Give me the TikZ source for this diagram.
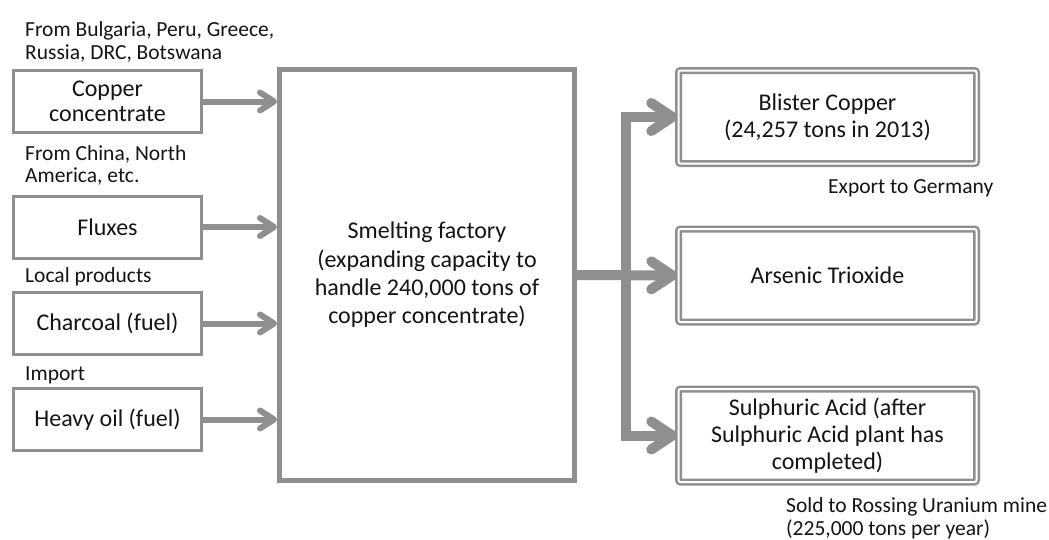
\documentclass[tikz,border=0pt]{standalone}
\usepackage{fontspec}
\setmainfont{Carlito}
\usetikzlibrary{arrows.meta}
\definecolor{linegray}{RGB}{143,143,143}
\definecolor{ink}{RGB}{20,20,20}
\tikzset{
  inbox/.style={draw=linegray, line width=3pt, fill=white, minimum width=188pt, minimum height=62pt,
    align=center, text=ink, font=\fontsize{24}{25}\selectfont, inner sep=0pt},
  factorybox/.style={draw=linegray, line width=5pt, fill=white, minimum width=295pt, minimum height=411pt,
    align=center, text=ink, font=\fontsize{24}{28.3}\selectfont, inner sep=0pt},
  outbox/.style={draw=linegray, double=white, double distance=2pt, line width=2.5pt, rounded corners=2pt,
    minimum width=298pt, minimum height=93pt, align=center, text=ink,
    font=\fontsize{24}{27.3}\selectfont, inner sep=0pt},
  note/.style={anchor=base west, align=left, text=ink, font=\fontsize{21.5}{22.7}\selectfont, inner sep=0pt},
  inarrow/.style={draw=linegray, line width=6pt,
    -{Straight Barb[length=14pt, width=18pt, line cap=round, line join=round]}},
  outarrow/.style={draw=linegray, line width=10pt, line join=miter,
    -{Straight Barb[length=21pt, width=28pt, line cap=round, line join=round]}},
}
\begin{document}
\begin{tikzpicture}[x=1pt, y=-1pt]
\useasboundingbox (0,0) rectangle (1049,539);

% raw materials
\node[inbox] (copper)   at (107.5,101.5) {Copper\\concentrate};
\node[inbox] (fluxes)   at (107.5,227)   {Fluxes};
\node[inbox] (charcoal) at (107.5,323.5) {Charcoal (fuel)};
\node[inbox] (oil)      at (107.5,419.5) {Heavy oil (fuel)};

% sources of the raw materials
\node[note] (srcCopper)   at (25,59.3)  {From Bulgaria, Peru, Greece,\\Russia, DRC, Botswana};
\node[note] (srcFluxes)   at (25,182.7) {From China, North\\America, etc.};
\node[note] (srcCharcoal) at (25,282)   {Local products};
\node[note] (srcOil)      at (25,380)   {Import};

% smelter
\node[factorybox] (factory) at (427,275) {Smelting factory\\(expanding capacity to\\handle 240,000 tons of\\copper concentrate)};

% products
\node[outbox] (blister) at (827.5,117)   {Blister Copper\\(24,257 tons in 2013)};
\node[outbox] (arsenic) at (827.5,275.5) {Arsenic Trioxide};
\node[outbox] (acid)    at (827.5,435.5) {Sulphuric Acid (after\\Sulphuric Acid plant has\\completed)};

% destinations of the products
\node[note] (dstBlister) at (828,193.3) {Export to Germany};
\node[note] (dstAcid)    at (786,535)   {Sold to Rossing Uranium mine\\(225,000 tons per year)};

% inputs
\foreach \src in {copper,fluxes,charcoal,oil}
  \draw[inarrow] (\src.east) -- (\src.east -| factory.west);

% outputs
\coordinate (split) at (626,275);
\draw[outarrow] (factory.east) -- (arsenic.west);
\draw[outarrow] (split) |- (blister.west);
\draw[outarrow] (split) |- (acid.west);
\end{tikzpicture}
\end{document}
